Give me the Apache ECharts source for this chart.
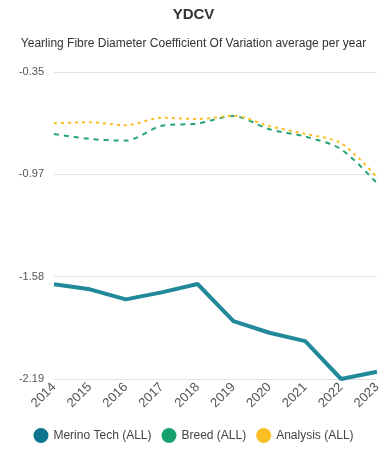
<!DOCTYPE html>
<html><head><meta charset="utf-8">
<script src="https://cdn.jsdelivr.net/npm/echarts@6/dist/echarts.min.js"></script>
<style>html,body{margin:0;padding:0;background:#fff}#c{width:387px;height:450px}</style>
</head><body><div id="c"></div>
<script>
const years = ['2014','2015','2016','2017','2018','2019','2020','2021','2022','2023'];
const merinoTech = [-1.626,-1.656,-1.716,-1.674,-1.624,-1.846,-1.916,-1.966,-2.193,-2.150];
const breed = [-0.725,-0.755,-0.765,-0.676,-0.663,-0.618,-0.697,-0.741,-0.817,-1.021];
const analysis = [-0.661,-0.655,-0.673,-0.628,-0.636,-0.616,-0.678,-0.725,-0.781,-0.985];
const yMin = -2.193, yMax = -0.354, yStep = 0.613;

const chart = echarts.init(document.getElementById('c'));
chart.setOption({
  animation:false,
  title:[
    {text:'YDCV',left:'center',top:2,textStyle:{fontFamily:'Arial, Liberation Sans',fontSize:15,fontWeight:'bold',color:'#333'}},
    {text:'Yearling Fibre Diameter Coefficient Of Variation average per year',left:'center',top:33,textStyle:{fontFamily:'Arial, Liberation Sans',fontSize:12,fontWeight:'normal',color:'#333'}}
  ],
  grid:{left:54,right:10,top:72,bottom:71},
  legend:{bottom:2,icon:'circle',itemWidth:15,itemHeight:15,itemGap:10,textStyle:{fontFamily:'Arial, Liberation Sans',fontSize:12,color:'#444'},
    data:[{name:'Merino Tech (ALL)',itemStyle:{color:'#0e7490'}},{name:'Breed (ALL)',itemStyle:{color:'#16a06c'}},{name:'Analysis (ALL)',itemStyle:{color:'#fbbf24'}}]},
  xAxis:{type:'category',data:years,boundaryGap:false,
    axisLine:{show:false},axisTick:{show:false},
    axisLabel:{rotate:45,fontSize:13,color:'#555',fontFamily:'Arial, Liberation Sans',margin:6}},
  yAxis:{type:'value',min:yMin,max:yMax,interval:yStep,
    axisLabel:{formatter:v=>v.toFixed(2),fontSize:11,color:'#555',fontFamily:'Arial, Liberation Sans',margin:10},
    splitLine:{lineStyle:{color:'#e3e3e3',width:1}}},
  series:[
    {name:'Merino Tech (ALL)',type:'line',data:merinoTech,showSymbol:false,color:'#0e7490',lineStyle:{color:'#21899a',width:4}},
    {name:'Breed (ALL)',type:'line',data:breed,showSymbol:false,smooth:0.3,color:'#16a06c',lineStyle:{color:'#26a474',width:2,type:[5,5]}},
    {name:'Analysis (ALL)',type:'line',data:analysis,showSymbol:false,smooth:0.3,color:'#fbbf24',lineStyle:{color:'#fbbf24',width:2,type:[3,4]}}
  ]
});
</script></body></html>
